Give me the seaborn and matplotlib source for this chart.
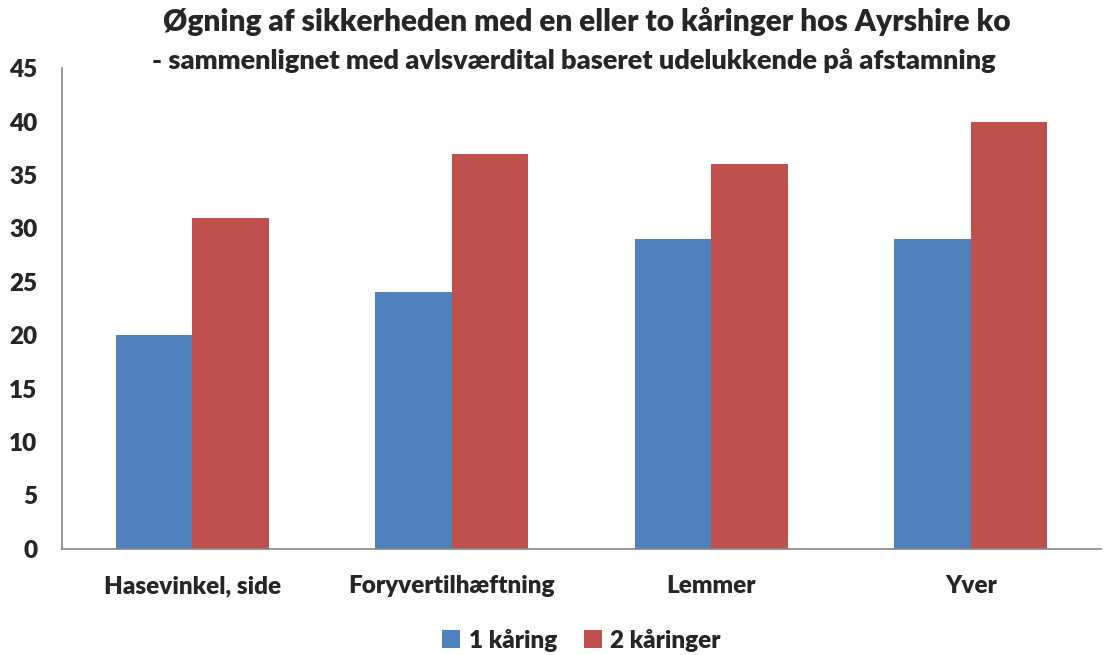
import matplotlib
matplotlib.use('Agg')
import matplotlib.pyplot as plt
import seaborn as sns
import pandas as pd

categories = ['Hasevinkel, side', 'Foryvertilhæftning', 'Lemmer', 'Yver']
series = ['1 kåring', '2 kåringer']
en_kaaring = [20, 24, 29, 29]
to_kaaringer = [31, 37, 36, 40]

df = pd.DataFrame({
    'Egenskab': categories * 2,
    'Serie': [series[0]] * 4 + [series[1]] * 4,
    'Vaerdi': en_kaaring + to_kaaringer,
})

sns.set_style('white')
plt.rcParams['font.family'] = ['Lato', 'DejaVu Sans']
plt.rcParams['font.weight'] = 'bold'

fig = plt.figure(figsize=(11.14, 6.55), dpi=100)
ax = fig.add_axes([0.056, 0.162, 0.932, 0.734])

sns.barplot(data=df, x='Egenskab', y='Vaerdi', hue='Serie',
            palette=['#4F81BD', '#C0504D'], width=0.59, gap=0,
            saturation=1, linewidth=0, ax=ax, legend=True)

ax.set_ylim(0, 45)
ax.set_yticks(range(0, 46, 5))
ax.set_xlim(-0.5, 3.5)
ax.set_xlabel('')
ax.set_ylabel('')
ax.tick_params(axis='both', length=0, labelsize=17.5)
ax.tick_params(axis='x', pad=19)
ax.tick_params(axis='y', pad=18)
for lab in ax.get_xticklabels() + ax.get_yticklabels():
    lab.set_fontweight('heavy')
for s in ['top', 'right']:
    ax.spines[s].set_visible(False)
for s in ['left', 'bottom']:
    ax.spines[s].set_color('#868686')
    ax.spines[s].set_linewidth(1.2)

fig.text(0.527, 0.967, 'Øgning af sikkerheden med en eller to kåringer hos Ayrshire ko',
         ha='center', va='center', fontsize=21.5, fontweight='heavy')
fig.text(0.515, 0.908, '- sammenlignet med avlsværdital baseret udelukkende på afstamning',
         ha='center', va='center', fontsize=19.5, fontweight='heavy')

ax.legend(loc='center', bbox_to_anchor=(0.5, -0.19), ncol=2, frameon=False,
          prop={'size': 17.5, 'weight': 'heavy'}, handlelength=0.75, handleheight=0.75,
          handletextpad=0.35, columnspacing=1.1, title=None)

fig.savefig('out.png', dpi=100)
